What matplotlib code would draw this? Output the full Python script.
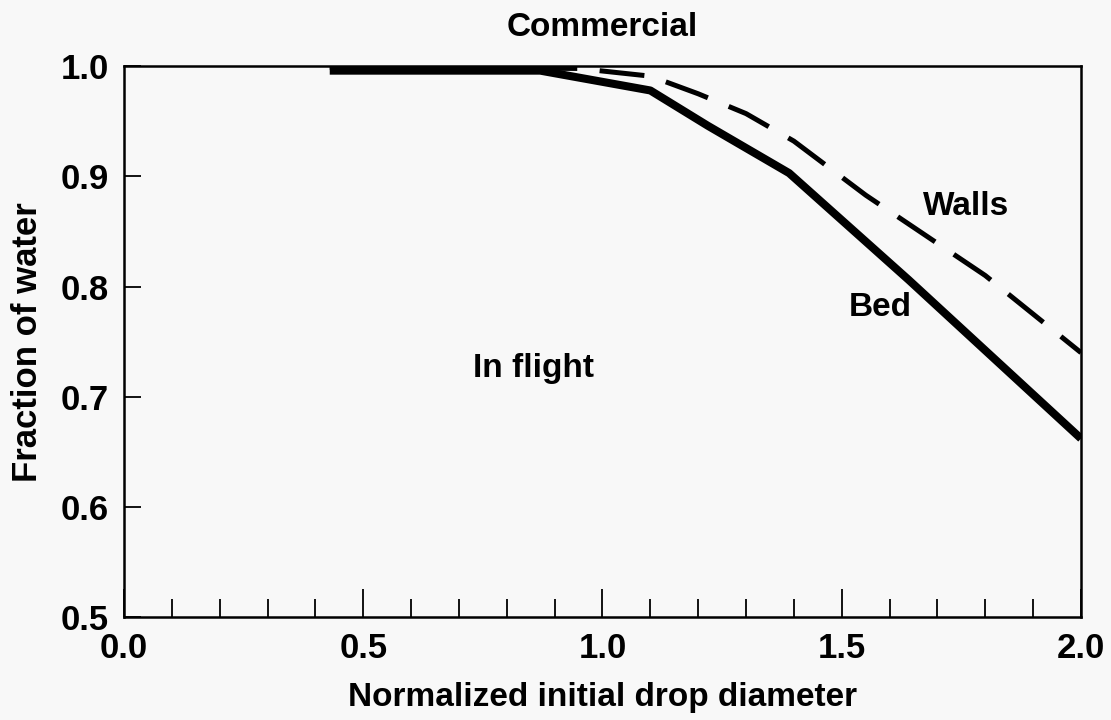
import matplotlib
matplotlib.use("Agg")
import matplotlib.pyplot as plt
from matplotlib.ticker import MultipleLocator

plt.rcParams['font.family'] = ['Liberation Sans', 'DejaVu Sans']
plt.rcParams['font.weight'] = 'bold'

bed_x = [0.43, 0.87, 1.10, 1.22, 1.39, 1.64, 2.00]
bed_y = [0.996, 0.996, 0.978, 0.946, 0.903, 0.806, 0.662]
walls_x = [0.43, 0.95, 1.10, 1.20, 1.30, 1.40, 1.55, 1.80, 2.00]
walls_y = [0.999, 0.998, 0.991, 0.975, 0.957, 0.932, 0.883, 0.810, 0.740]
x_ticks = [0.0, 0.5, 1.0, 1.5, 2.0]
y_ticks = [0.5, 0.6, 0.7, 0.8, 0.9, 1.0]

bg = '#f8f8f8'
fig = plt.figure(figsize=(11.11, 7.2), dpi=100, facecolor=bg)
ax = fig.add_axes([0.1116, 0.143, 0.8614, 0.765], facecolor=bg)

ax.plot(bed_x, bed_y, color='black', lw=5.8, solid_capstyle='butt', solid_joinstyle='round', zorder=3)
ax.plot(walls_x, walls_y, color='black', lw=3.6, linestyle=(0, (9, 4.5)), dash_capstyle='butt', zorder=2)

ax.set_xlim(0, 2.0)
ax.set_ylim(0.5, 1.0)
ax.set_xticks(x_ticks)
ax.set_xticklabels([f'{v:.1f}' for v in x_ticks])
ax.set_yticks(y_ticks)
ax.set_yticklabels([f'{v:.1f}' for v in y_ticks])
ax.xaxis.set_minor_locator(MultipleLocator(0.1))

ax.tick_params(axis='x', which='major', direction='in', length=20, width=1.3, labelsize=25, pad=11)
ax.tick_params(axis='x', which='minor', direction='in', length=13, width=1.3)
ax.tick_params(axis='y', which='major', direction='in', length=12, width=1.3, labelsize=25, pad=11)
for s in ax.spines.values():
    s.set_linewidth(1.8)

ax.set_xlabel('Normalized initial drop diameter', fontsize=24, fontweight='bold', labelpad=12)
ax.set_ylabel('Fraction of water', fontsize=25, fontweight='bold', labelpad=12)
ax.set_title('Commercial', fontsize=24, fontweight='bold', pad=22)

ax.text(1.76, 0.873, 'Walls', fontsize=24, fontweight='bold', ha='center', va='center')
ax.text(1.58, 0.781, 'Bed', fontsize=24, fontweight='bold', ha='center', va='center')
ax.text(0.855, 0.726, 'In flight', fontsize=24, fontweight='bold', ha='center', va='center')

fig.savefig('out.png', dpi=100, facecolor=bg)
